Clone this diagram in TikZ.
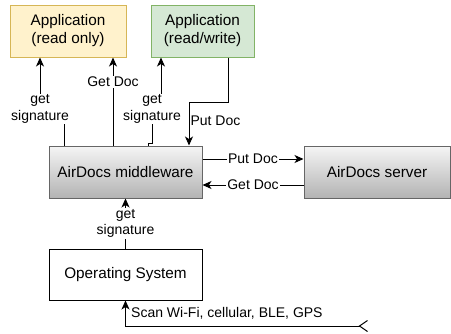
\documentclass[tikz,border=0pt]{standalone}
\usepackage{fontspec}
\setmainfont{Liberation Sans}
\usetikzlibrary{arrows.meta,positioning}
\definecolor{roFill}{HTML}{FFF2CC}
\definecolor{roLine}{HTML}{D6B656}
\definecolor{rwFill}{HTML}{D5E8D4}
\definecolor{rwLine}{HTML}{82B366}
\definecolor{mwTop}{HTML}{F5F5F5}
\definecolor{mwBottom}{HTML}{B3B3B3}
\definecolor{mwLine}{HTML}{666666}

\begin{document}
\begin{tikzpicture}[x=1pt, y=-1pt,
        every node/.style={font=\fontsize{15.3}{18}\selectfont},
        box/.style={draw, line width=1pt, minimum height=52pt, align=center, inner sep=0pt},
        grey box/.style={box, draw=mwLine, top color=mwTop, bottom color=mwBottom},
        lbl/.style={font=\fontsize{14}{16.5}\selectfont, fill=white, inner sep=1pt, align=center},
        arr/.style={line width=1pt, -{Stealth[length=9pt, width=8pt, inset=2.5pt]}}]
        \useasboundingbox (0,0) rectangle (451,333);

        % Applications (top)
        \node[box, draw=roLine, fill=roFill, minimum width=116pt] (ro) at (68,31)
            {Application\\(read only)};
        \node[box, draw=rwLine, fill=rwFill, minimum width=103pt] (rw) at (202.5,31)
            {Application\\(read/write)};

        % AirDocs (middle)
        \node[grey box, minimum width=153pt] (mw) at (125.5,172) {AirDocs middleware};
        \node[grey box, minimum width=146pt] (srv) at (377,172) {AirDocs server};

        % Operating system (bottom)
        \node[box, minimum width=153pt, minimum height=51pt] (os) at (125.5,274.5) {Operating System};
        \coordinate (scan) at (368,326);

        \draw[arr] (mw.north -| 64,0) |- (40,109) node[lbl] {get\\signature} -- (ro.south -| 40,0);
        \draw[arr] (mw.north -| 113,0) -- node[lbl, pos=0.72] {Get Doc} (ro.south -| 113,0);
        \draw[arr] (mw.north -| 148,0) -- ++(0,-2) -| (152,109) node[lbl] {get\\signature} -| (rw.south -| 161,0);
        \draw[arr] (rw.south -| 228,0) |- (189,102) -- node[lbl, right, pos=0.43, fill=none] {Put Doc} (mw.north -| 189,0);

        \draw[arr] (mw.east |- 0,159) -- node[lbl] {Put Doc} (srv.west |- 0,159);
        \draw[arr] (srv.west |- 0,185) -- node[lbl] {Get Doc} (mw.east |- 0,185);

        \draw[arr] (os.north) -- node[lbl] {get\\signature} (mw.south);
        \draw[line width=1pt, {Straight Barb[reversed, length=8pt, width=11pt]}-{Stealth[length=9pt, width=8pt, inset=2.5pt]}]
            (scan) -| (os.south);
        \node[lbl, anchor=west, fill=none] (scanlbl) at (130,313) {Scan Wi-Fi, cellular, BLE, GPS};
    \end{tikzpicture}
\end{document}
